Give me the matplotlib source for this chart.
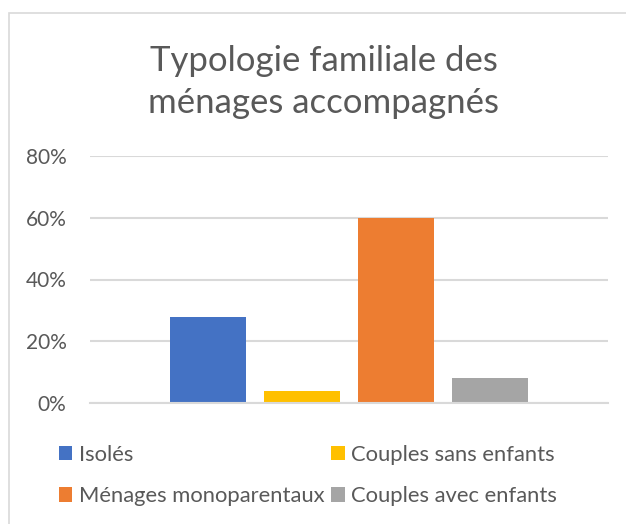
import matplotlib
matplotlib.use("Agg")
import matplotlib.pyplot as plt
from matplotlib.patches import Patch, Rectangle
from matplotlib.ticker import PercentFormatter

categories = ["Isolés", "Couples sans enfants", "Ménages monoparentaux", "Couples avec enfants"]
values = [0.28, 0.04, 0.60, 0.08]
colors = ["#4472C4", "#FFC000", "#ED7D31", "#A5A5A5"]
yticks = [0, 0.2, 0.4, 0.6, 0.8]

plt.rcParams['font.family'] = ['Lato', 'DejaVu Sans']
text_color = "#595959"

W, H = 626, 524
fig = plt.figure(figsize=(W / 100, H / 100), dpi=100)

# chart border
fig.patches.append(Rectangle((9 / W, -0.05), 1.2, 1 - 13 / H + 0.05, transform=fig.transFigure,
                             fill=False, edgecolor="#D9D9D9", linewidth=1.2))

ax = fig.add_axes([90 / W, 1 - 403 / H, (608 - 90) / W, (403 - 156) / H])
xs = list(range(len(values)))
bars = ax.bar(xs, values, width=0.8, color=colors)
ax.set_xlim(1.5 - 2.755, 1.5 + 2.755)
ax.set_ylim(0, 0.8)
ax.set_yticks(yticks)
ax.yaxis.set_major_formatter(PercentFormatter(1.0, decimals=0))
ax.set_xticks([])
ax.grid(axis="y", color="#D9D9D9", linewidth=1.5)
ax.set_axisbelow(True)
for s in ["top", "right", "left"]:
    ax.spines[s].set_visible(False)
ax.spines["bottom"].set_color("#D9D9D9")
ax.spines["bottom"].set_linewidth(1.5)
ax.tick_params(axis="y", length=0, pad=17, labelsize=15, labelcolor=text_color)

fig.text(0.517, 1 - 82 / H, "Typologie familiale des\nménages accompagnés", ha="center", va="center",
         fontsize=25, color=text_color, linespacing=1.38)

handles = [Patch(facecolor=c, edgecolor="none") for c in colors]
order = [0, 2, 1, 3]
fig.legend([handles[i] for i in order], [categories[i] for i in order], ncol=2,
           loc="upper left", bbox_to_anchor=(50 / W, 1 - 436 / H), frameon=False,
           fontsize=15.8, labelcolor=text_color, handlelength=0.62, handleheight=0.62,
           handletextpad=0.3, columnspacing=0.3, labelspacing=0.98, borderaxespad=0)

fig.savefig("out.png", dpi=100)
